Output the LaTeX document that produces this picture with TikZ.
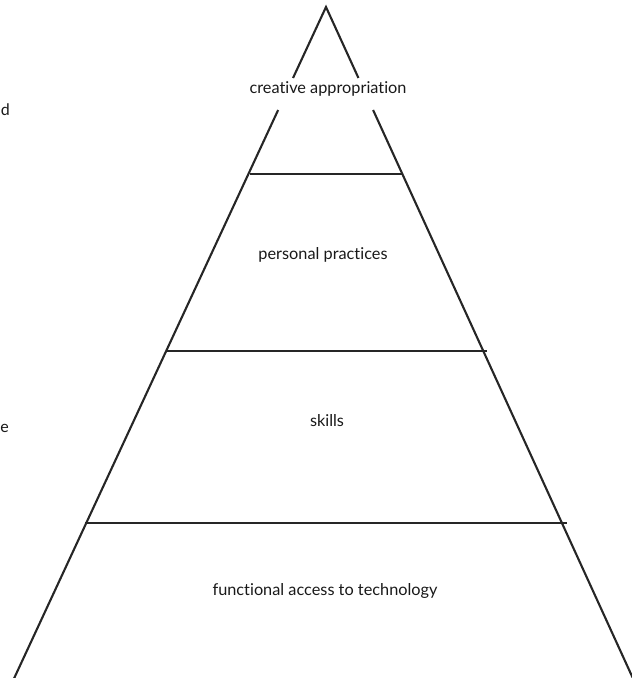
\documentclass[tikz,border=0pt]{standalone}
\usepackage{fontspec}
\usetikzlibrary{calc}
\setmainfont{Lato}[Ligatures={NoCommon,NoRare}]
\begin{document}
\begin{tikzpicture}[x=1pt,y=-1pt,
  edge/.style={line width=2.1pt,draw=black!85},
  lbl/.style={font=\fontsize{16.3}{18}\selectfont,text=black!90,inner sep=0pt},
  frag/.style={font=\fontsize{16}{18}\selectfont,text=black!90,inner sep=0pt,anchor=east}]
\useasboundingbox (0,0) rectangle (632,678);
\begin{scope}
\clip (0,0) rectangle (632,678);
\coordinate (apex) at (326,7);
\coordinate (bl) at (11,685);
\coordinate (br) at (636,685);
\coordinate (la) at ($(apex)!0.1047!(bl)$);
\coordinate (ra) at ($(apex)!0.1047!(br)$);
\coordinate (lb) at ($(apex)!0.1519!(bl)$);
\coordinate (rb) at ($(apex)!0.1519!(br)$);
\coordinate (l1) at (250,174);
\coordinate (r1) at (403,174);
\coordinate (l2) at (167,351);
\coordinate (r2) at (487,351);
\coordinate (l3) at (85,523);
\coordinate (r3) at (567,523);
\draw[edge,line join=miter] (la) -- (apex) -- (ra);
\draw[edge] (lb) -- (bl);
\draw[edge] (rb) -- (br);
\draw[edge] (l1) -- (r1);
\draw[edge] (l2) -- (r2);
\draw[edge] (l3) -- (r3);
\node[lbl] (t1) at (328,89) {creative appropriation};
\node[lbl] (t2) at (323,255) {personal practices};
\node[lbl] (t3) at (327,421) {skills};
\node[lbl] (t4) at (325,591) {functional access to technology};
\node[frag] (f1) at (10,110) {d};
\node[frag] (f2) at (9,428) {e};
\end{scope}
\end{tikzpicture}
\end{document}
